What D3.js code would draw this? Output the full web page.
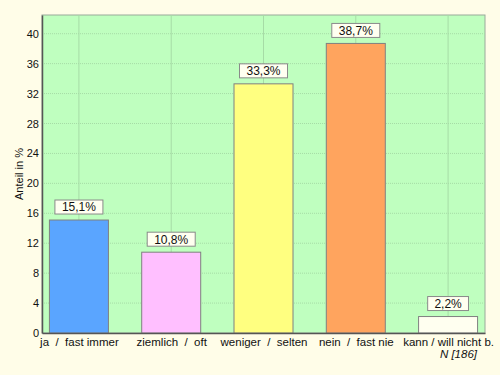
<!DOCTYPE html>
<html>
<head>
<meta charset="utf-8">
<script src="https://cdn.jsdelivr.net/npm/d3@7"></script>
<style>
  body { margin: 0; background: #fffde8; }
  svg { display: block; font-family: Arial, "Liberation Sans", sans-serif; }
</style>
</head>
<body>
<svg id="chart" width="500" height="375"></svg>
<script>
const categories = ["ja  /  fast immer", "ziemlich  /  oft", "weniger  /  selten", "nein  /  fast nie", "kann / will nicht b."];
const values = [15.1, 10.8, 33.3, 38.7, 2.2];
const labels = ["15,1%", "10,8%", "33,3%", "38,7%", "2,2%"];
const colors = ["#5aa5ff", "#ffbfff", "#ffff80", "#ffa45e", "#fffff0"];
const yTicks = [0, 4, 8, 12, 16, 20, 24, 28, 32, 36, 40];

const svg = d3.select("#chart");
const margin = {left: 42, top: 15, right: 15, bottom: 42};
const W = 500, H = 375;
const x0 = margin.left, x1 = W - margin.right, y0 = H - margin.bottom, y1 = margin.top;

const x = d3.scalePoint().domain(categories).range([x0, x1]).padding(0.4);
const y = d3.scaleLinear().domain([0, 42.5]).range([y0, y1]);
const barW = 59;
const font = "Arial, 'Liberation Sans', sans-serif";

svg.append("rect").attr("width", W).attr("height", H).attr("fill", "#fffde8");

svg.append("rect")
  .attr("x", x0).attr("y", y1)
  .attr("width", x1 - x0).attr("height", y0 - y1)
  .attr("fill", "#bfffbf")
  .attr("stroke", "#9aaa9a");

// grid
svg.append("g").selectAll("line.h")
  .data(yTicks.filter(d => d > 0))
  .enter().append("line")
  .attr("x1", x0).attr("x2", x1)
  .attr("y1", d => y(d)).attr("y2", d => y(d))
  .attr("stroke", "#a6dca6").attr("stroke-dasharray", "1,1");

svg.append("g").selectAll("line.v")
  .data(categories)
  .enter().append("line")
  .attr("x1", d => x(d)).attr("x2", d => x(d))
  .attr("y1", y1).attr("y2", y0)
  .attr("stroke", "#a6dca6");

// bars
svg.append("g").selectAll("rect")
  .data(values)
  .enter().append("rect")
  .attr("x", (d, i) => x(categories[i]) - barW / 2)
  .attr("y", d => y(d))
  .attr("width", barW)
  .attr("height", d => y0 - y(d))
  .attr("fill", (d, i) => colors[i])
  .attr("stroke", "#808080");

// value labels
const lab = svg.append("g").selectAll("g")
  .data(values)
  .enter().append("g")
  .attr("transform", (d, i) => `translate(${x(categories[i])},${y(d) - 13})`);

lab.append("rect")
  .attr("x", (d, i) => -(labels[i].length * 3.6 + 6))
  .attr("y", -7)
  .attr("width", (d, i) => 2 * (labels[i].length * 3.6 + 6))
  .attr("height", 14)
  .attr("fill", "#fffff0")
  .attr("stroke", "#8a8a8a");

lab.append("text")
  .attr("text-anchor", "middle")
  .attr("dy", "0.36em")
  .attr("font-size", 12)
  .attr("fill", "#111")
  .text((d, i) => labels[i]);

// axes
const yAxis = svg.append("g")
  .attr("transform", `translate(${x0},0)`)
  .call(d3.axisLeft(y).tickValues(yTicks).tickSize(0).tickPadding(3));
yAxis.select(".domain").attr("stroke", "#555").attr("stroke-width", 1.5);
yAxis.selectAll("text").attr("font-size", 11).attr("fill", "#111").attr("font-family", font);

const xAxis = svg.append("g")
  .attr("transform", `translate(0,${y0})`)
  .call(d3.axisBottom(x).tickSize(0).tickPadding(5));
xAxis.select(".domain").attr("stroke", "#555").attr("stroke-width", 1.5);
xAxis.selectAll("text").attr("font-size", 11.5).attr("fill", "#111").attr("font-family", font)
  .style("white-space", "pre");

svg.append("text")
  .attr("transform", `translate(23,${(y0 + y1) / 2}) rotate(-90)`)
  .attr("text-anchor", "middle")
  .attr("font-size", 11)
  .attr("fill", "#111")
  .text("Anteil in %");

svg.append("text")
  .attr("x", 477).attr("y", 358)
  .attr("text-anchor", "end")
  .attr("font-size", 11.5)
  .attr("font-style", "italic")
  .attr("fill", "#111")
  .text("N [186]");
</script>
</body>
</html>
